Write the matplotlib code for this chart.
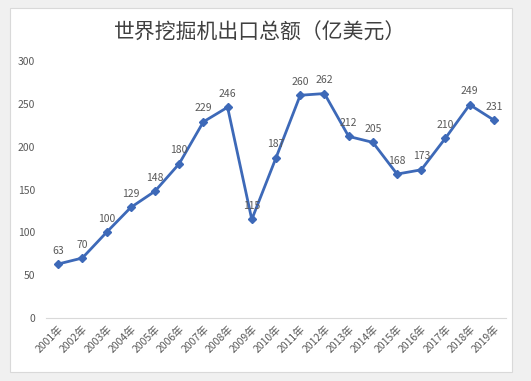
import matplotlib
matplotlib.use("Agg")
import matplotlib.pyplot as plt
from matplotlib.patches import Rectangle

plt.rcParams["font.family"] = ["Noto Sans CJK SC", "DejaVu Sans"]

# ── data ──────────────────────────────────────────────────────────────────────
YEARS = [f"{y}年" for y in range(2001, 2020)]
EXPORT = [63, 70, 100, 129, 148, 180, 229, 246, 115, 187,
          260, 262, 212, 205, 168, 173, 210, 249, 231]
Y_TICKS = [0, 50, 100, 150, 200, 250, 300]

LINE_COLOR = "#3d69b8"
TEXT_COLOR = "#595959"

fig = plt.figure(figsize=(5.31, 3.81), dpi=100)
fig.patch.set_facecolor("#f0f0f0")
# white chart panel
panel = Rectangle((10 / 531, 9 / 381), 502 / 531, 364 / 381,
                  transform=fig.transFigure, facecolor="white",
                  edgecolor="#d9d9d9", lw=0.8, zorder=-5)
fig.add_artist(panel)

ax = fig.add_axes([46 / 531, 1 - 318 / 381, 460 / 531, 257 / 381])
ax.set_facecolor("none")
ax.set_zorder(2)

x = list(range(len(EXPORT)))
ax.plot(x, EXPORT, color=LINE_COLOR, lw=2, marker="D", ms=4.5,
        markerfacecolor=LINE_COLOR, markeredgecolor=LINE_COLOR, zorder=3)

for xi, v in zip(x, EXPORT):
    ax.annotate(str(v), (xi, v), xytext=(0, 6), textcoords="offset points",
                ha="center", va="bottom", fontsize=7.5, color=TEXT_COLOR)

ax.set_xlim(-0.5, len(EXPORT) - 0.5)
ax.set_ylim(0, 300)
ax.set_yticks(Y_TICKS)
ax.set_xticks(x)
ax.set_xticklabels(YEARS, rotation=45, ha="right", rotation_mode="anchor")
ax.tick_params(axis="both", length=0, labelsize=7.5, colors=TEXT_COLOR)
ax.tick_params(axis="y", pad=8)
ax.tick_params(axis="x", pad=4)

for s in ["top", "right", "left"]:
    ax.spines[s].set_visible(False)
ax.spines["bottom"].set_color("#d9d9d9")
ax.spines["bottom"].set_linewidth(0.8)

fig.text(0.49, 1 - 33 / 381, "世界挖掘机出口总额（亿美元）", ha="center", va="center",
         fontsize=15, color="#404040")

plt.savefig("out.png", dpi=100)
plt.close()
